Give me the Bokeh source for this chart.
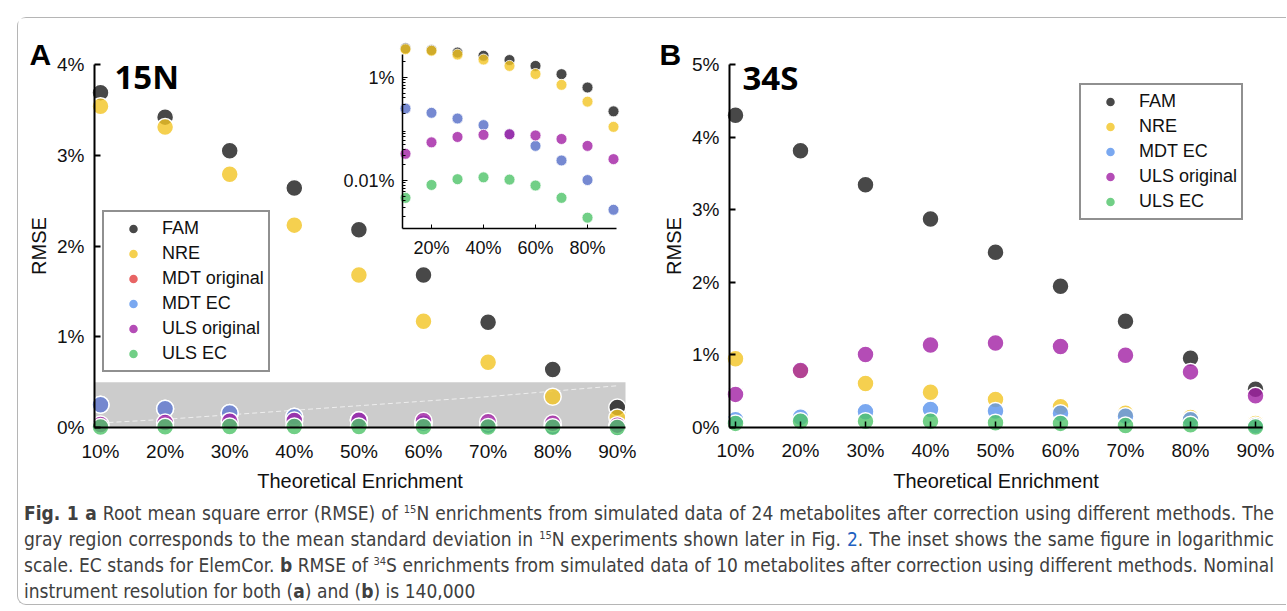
import numpy as np
from bokeh.plotting import figure
from bokeh.models import (Range1d, LinearAxis, LogAxis, LogScale, FixedTicker, ColumnDataSource,
                          Legend, LegendItem, Label, BoxAnnotation, CDSView, BooleanFilter, Div)
from bokeh.layouts import row, column
from bokeh.embed import file_html
from bokeh.resources import INLINE

# ---------------- data ----------------
enrichment = [10, 20, 30, 40, 50, 60, 70, 80, 90]
x_tick_labels = ["10%", "20%", "30%", "40%", "50%", "60%", "70%", "80%", "90%"]
inset_x_ticks = [20, 40, 60, 80]
inset_x_labels = ["20%", "40%", "60%", "80%"]
a_y_ticks = [0, 1, 2, 3, 4]
a_y_labels = ["0%", "1%", "2%", "3%", "4%"]
b_y_ticks = [0, 1, 2, 3, 4, 5]
b_y_labels = ["0%", "1%", "2%", "3%", "4%", "5%"]
inset_y_ticks = [0.01, 1]
inset_y_labels = ["0.01%", "1%"]

methods_15N = ["FAM", "NRE", "MDT original", "MDT EC", "ULS original", "ULS EC"]
fam_15N = [3.69, 3.42, 3.05, 2.64, 2.18, 1.68, 1.16, 0.64, 0.22]
nre_15N = [3.54, 3.31, 2.79, 2.23, 1.68, 1.17, 0.72, 0.34, 0.11]
mdt_orig_15N = [0.25, 0.206, 0.16, 0.119, 0.080, 0.047, 0.0245, 0.0102, 0.0027]
mdt_ec_15N = [0.25, 0.206, 0.16, 0.119, 0.080, 0.047, 0.0245, 0.0102, 0.0027]
uls_orig_15N = [0.033, 0.055, 0.070, 0.077, 0.079, 0.075, 0.064, 0.047, 0.026]
uls_ec_15N = [0.0046, 0.0082, 0.0106, 0.0115, 0.0104, 0.0080, 0.0046, 0.0019, 0.0008]
sd_band_15N = 0.5
sd_trend_15N = [0.05, 0.09, 0.14, 0.19, 0.24, 0.29, 0.34, 0.40, 0.46]

methods_34S = ["FAM", "NRE", "MDT EC", "ULS original", "ULS EC"]
fam_34S = [4.30, 3.81, 3.34, 2.87, 2.41, 1.94, 1.46, 0.95, 0.52]
nre_34S = [0.94, 0.77, 0.60, 0.48, 0.38, 0.28, 0.19, 0.13, 0.05]
mdt_ec_34S = [0.10, 0.135, 0.21, 0.24, 0.22, 0.19, 0.15, 0.10, 0.02]
uls_orig_34S = [0.45, 0.78, 1.00, 1.13, 1.16, 1.11, 0.99, 0.76, 0.43]
uls_ec_34S = [0.05, 0.08, 0.08, 0.08, 0.06, 0.05, 0.02, 0.03, 0.00]

values_15N = dict(zip(methods_15N, [fam_15N, nre_15N, mdt_orig_15N, mdt_ec_15N, uls_orig_15N, uls_ec_15N]))
values_34S = dict(zip(methods_34S, [fam_34S, nre_34S, mdt_ec_34S, uls_orig_34S, uls_ec_34S]))

colors = {"FAM": "#1a1a1a", "NRE": "#f2c423", "MDT original": "#e23d3d",
          "MDT EC": "#5992ec", "ULS original": "#a11fa4", "ULS EC": "#4dc368"}

# ---------------- geometry (page pixels) ----------------
OX, OY = 19, 19
A_W, A_H = 631, 476
B_X0 = OX + A_W
B_W = 1287 - B_X0

# the plotting frame covers the whole canvas of each panel
A_FL, A_FR, A_FT, A_FB = OX, OX + A_W, OY, OY + A_H
B_FL, B_FR, B_FT, B_FB = B_X0, B_X0 + B_W, OY, OY + A_H

# value mappings: (pixel of reference value, reference value, pixels per unit)
A_XM = (101, 10, 6.46)
A_YM = (428, 0, 90.75)
I_XM = (406, 10, 2.6)
I_YM = (78, 0, 51.5)  # log10 decades
B_XM = (736, 10, 6.5)
B_YM = (427.5, 0, 72.5)


def xval(px, m):
    return m[1] + (px - m[0]) / m[2]


def yval(py, m):
    return m[1] + (m[0] - py) / m[2]


def font_axis(ax, size="19px"):
    ax.major_label_text_font = "Liberation Sans"
    ax.major_label_text_font_size = size
    ax.major_label_text_color = "#111111"
    ax.axis_label_text_font = "Liberation Sans"
    ax.axis_label_text_font_size = "20px"
    ax.axis_label_text_font_style = "normal"
    ax.axis_label_text_color = "#111111"
    ax.axis_line_color = "black"
    ax.major_tick_line_color = "black"
    ax.minor_tick_line_color = "black"
    ax.major_tick_out = 0
    ax.minor_tick_out = 0
    return ax


def base_fig(w, h, xr, yr):
    p = figure(width=w, height=h, x_range=xr, y_range=yr, x_axis_type=None, y_axis_type=None,
               toolbar_location=None, tools="", output_backend="svg", title_location=None)
    p.min_border_left = 0
    p.min_border_right = 0
    p.min_border_top = 0
    p.min_border_bottom = 0
    p.outline_line_color = None
    p.background_fill_color = "white"
    p.border_fill_color = "white"
    return p


def make_legend(items, loc):
    return Legend(items=items, location=loc, glyph_width=50, glyph_height=25, label_height=25,
                  spacing=0, padding=4, margin=0, label_standoff=4,
                  label_text_font="Liberation Sans", label_text_font_size="18px",
                  label_text_color="#111111",
                  border_line_color="#222222", border_line_width=2, background_fill_alpha=1.0)


# ---------------- Panel A ----------------
pa = base_fig(A_W, A_H,
              Range1d(xval(A_FL, A_XM), xval(A_FR, A_XM)),
              Range1d(yval(A_FB, A_YM), yval(A_FT, A_YM)))
ix_lo, ix_hi = xval(A_FL, I_XM), xval(A_FR, I_XM)
iy_lo, iy_hi = 10 ** yval(A_FB, I_YM), 10 ** yval(A_FT, I_YM)
pa.extra_x_ranges = {"ix": Range1d(ix_lo, ix_hi)}
pa.extra_y_ranges = {"iy": Range1d(iy_lo, iy_hi)}
pa.extra_y_scales = {"iy": LogScale()}

a_axis_x = xval(95, A_XM)
a_x_end = xval(626, A_XM)

band = BoxAnnotation(left=a_axis_x, right=a_x_end, bottom=0, top=sd_band_15N,
                     fill_color="#cccccc", fill_alpha=1.0, line_color=None, level="underlay")
pa.add_layout(band)
pa.line(enrichment, sd_trend_15N, line_color="#eeeeee", line_width=1, line_dash="5 3")

a_renderers = {}
for m in methods_15N:
    src = ColumnDataSource(dict(x=enrichment, y=values_15N[m]))
    a_renderers[m] = pa.scatter("x", "y", source=src, size=17, fill_color=colors[m], fill_alpha=0.8,
                                line_color="white", line_width=1.5)

inset_ymin = 10 ** yval(229, I_YM)
inset_ytop = 10 ** yval(55, I_YM)
for m in methods_15N:
    vals = values_15N[m]
    src = ColumnDataSource(dict(x=enrichment, y=vals))
    mask = [v >= inset_ymin for v in vals]
    pa.scatter("x", "y", source=src, size=11, fill_color=colors[m], fill_alpha=0.8,
               line_color="white", line_width=0.8, x_range_name="ix", y_range_name="iy",
               view=CDSView(filter=BooleanFilter(mask)))

xa = font_axis(LinearAxis(ticker=FixedTicker(ticks=enrichment),
                          major_label_overrides=dict(zip(enrichment, x_tick_labels)),
                          fixed_location=0, bounds=(a_axis_x, a_x_end),
                          axis_label="Theoretical Enrichment"))
xa.axis_line_width = 2
xa.major_tick_in = 0
xa.major_label_standoff = 13
xa.axis_label_standoff = 5
pa.add_layout(xa, "below")

ya = font_axis(LinearAxis(ticker=FixedTicker(ticks=a_y_ticks),
                          major_label_overrides=dict(zip(a_y_ticks, a_y_labels)),
                          fixed_location=a_axis_x, bounds=(0, 4), axis_label="RMSE"))
ya.axis_line_width = 2
ya.major_tick_in = 6
ya.major_tick_line_width = 2
ya.major_label_standoff = 10
ya.axis_label_standoff = 4
pa.add_layout(ya, "left")

# inset axes
i_x0 = xval(403, I_XM)
i_x1 = xval(617, I_XM)
ixa = font_axis(LinearAxis(x_range_name="ix", y_range_name="iy",
                           ticker=FixedTicker(ticks=inset_x_ticks),
                           major_label_overrides=dict(zip(inset_x_ticks, inset_x_labels)),
                           fixed_location=inset_ymin, bounds=(i_x0, i_x1)), size="18px")
ixa.axis_line_width = 1.5
ixa.major_tick_in = 4
ixa.major_label_standoff = 9
pa.add_layout(ixa, "below")

minor = [k * 10.0 ** e for e in (-3, -2, -1, 0) for k in range(2, 10) if inset_ymin <= k * 10.0 ** e <= inset_ytop]
iya = font_axis(LogAxis(x_range_name="ix", y_range_name="iy",
                        ticker=FixedTicker(ticks=inset_y_ticks, minor_ticks=minor),
                        major_label_overrides=dict(zip(inset_y_ticks, inset_y_labels)),
                        fixed_location=i_x0, bounds=(inset_ymin, inset_ytop)), size="18px")
iya.axis_line_width = 1.5
iya.major_tick_in = 5
iya.minor_tick_in = 3
iya.major_label_standoff = 8
pa.add_layout(iya, "left")

leg_a = make_legend([LegendItem(label=m, renderers=[a_renderers[m]]) for m in methods_15N],
                    (103 - A_FL, A_FB - 370 - 3))
pa.add_layout(leg_a)

pa.add_layout(Label(x=xval(30, A_XM), y=yval(55, A_YM), text="A", text_font="Liberation Sans",
                    text_font_style="bold", text_font_size="30px", text_baseline="alphabetic",
                    text_color="black"))
pa.add_layout(Label(x=xval(115, A_XM), y=yval(77, A_YM), text="15N", text_font="Open Sans",
                    text_font_style="bold", text_font_size="33px", text_baseline="alphabetic",
                    text_color="black"))

# ---------------- Panel B ----------------
pb = base_fig(B_W, A_H,
              Range1d(xval(B_FL, B_XM), xval(B_FR, B_XM)),
              Range1d(yval(B_FB, B_YM), yval(B_FT, B_YM)))
b_axis_x = xval(730, B_XM)
b_x_end = xval(1263, B_XM)

b_renderers = {}
for m in methods_34S:
    src = ColumnDataSource(dict(x=enrichment, y=values_34S[m]))
    b_renderers[m] = pb.scatter("x", "y", source=src, size=17, fill_color=colors[m], fill_alpha=0.8,
                                line_color="white", line_width=1.5)

xb = font_axis(LinearAxis(ticker=FixedTicker(ticks=enrichment),
                          major_label_overrides=dict(zip(enrichment, x_tick_labels)),
                          fixed_location=0, bounds=(b_axis_x, b_x_end),
                          axis_label="Theoretical Enrichment"))
xb.axis_line_width = 2
xb.major_tick_in = 6
xb.major_tick_line_width = 1.5
xb.major_label_standoff = 13
xb.axis_label_standoff = 5
pb.add_layout(xb, "below")

yb = font_axis(LinearAxis(ticker=FixedTicker(ticks=b_y_ticks),
                          major_label_overrides=dict(zip(b_y_ticks, b_y_labels)),
                          fixed_location=b_axis_x, bounds=(0, 5), axis_label="RMSE"))
yb.axis_line_width = 2
yb.major_tick_in = 6
yb.major_tick_line_width = 2
yb.major_label_standoff = 10
yb.axis_label_standoff = 4
pb.add_layout(yb, "left")

leg_b = make_legend([LegendItem(label=m, renderers=[b_renderers[m]]) for m in methods_34S],
                    (1079 - B_FL + 1, B_FB - 217 - 4))
pb.add_layout(leg_b)

pb.add_layout(Label(x=xval(660, B_XM), y=yval(55, B_YM), text="B", text_font="Liberation Sans",
                    text_font_style="bold", text_font_size="30px", text_baseline="alphabetic",
                    text_color="black"))
pb.add_layout(Label(x=xval(743, B_XM), y=yval(78, B_YM), text="34S", text_font="Open Sans",
                    text_font_style="bold", text_font_size="33px", text_baseline="alphabetic",
                    text_color="black"))

# ---------------- caption ----------------
sup = '<sup style="font-size:11px;vertical-align:7px;line-height:0">{}</sup>'
caption_lines = [
    '<b>Fig. 1 a</b> Root mean square error (RMSE) of ' + sup.format("15") +
    'N enrichments from simulated data of 24 metabolites after correction using different methods. The',
    'gray region corresponds to the mean standard deviation in ' + sup.format("15") +
    'N experiments shown later in Fig. <span style="color:#2060c0">2</span>. The inset shows the same figure in logarithmic',
    'scale. EC stands for ElemCor. <b>b</b> RMSE of ' + sup.format("34") +
    'S enrichments from simulated data of 10 metabolites after correction using different methods. Nominal',
    'instrument resolution for both (<b>a</b>) and (<b>b</b>) is 140,000',
]
line_divs = []
for i, t in enumerate(caption_lines):
    just = "text-align:justify;text-align-last:justify;" if i < len(caption_lines) - 1 else "text-align:left;"
    line_divs.append('<div style="%sheight:26px;white-space:nowrap">%s</div>' % (just, t))
html = ('<div style="width:1250px;font-family:\'DejaVu Sans Condensed\',\'Liberation Sans Narrow\',sans-serif;'
        'font-size:19px;color:#404040;line-height:26px;">' + "".join(line_divs) + '</div>')
caption = Div(text=html, width=1262, height=104, margin=(6, 0, 0, 6))

root = column(row(pa, pb), caption, margin=(17, 0, 0, 17),
              styles={"border-left": "1.5px solid #b5b5b5", "border-top": "1.5px solid #b5b5b5",
                      "border-bottom": "1.5px solid #b5b5b5", "border-radius": "9px 0 0 9px"})

open("out.html", "w").write(file_html(root, INLINE, title="RMSE of enrichment corrections"))
